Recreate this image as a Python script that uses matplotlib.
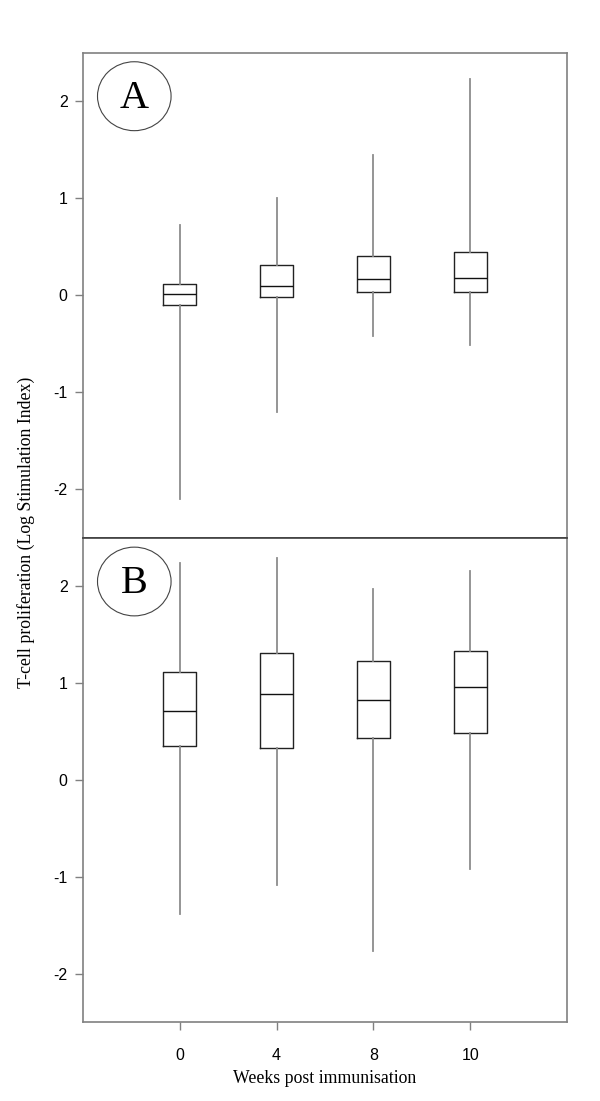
import matplotlib
matplotlib.use("Agg")
import matplotlib.pyplot as plt
from matplotlib.patches import Ellipse

# weeks post immunisation (x categories)
weeks = ["0", "4", "8", "10"]

# panel A box statistics (log stimulation index)
a_whislo = [-2.10, -1.20, -0.42, -0.51]
a_q1 = [-0.10, -0.02, 0.03, 0.03]
a_med = [0.01, 0.10, 0.17, 0.18]
a_q3 = [0.12, 0.31, 0.40, 0.45]
a_whishi = [0.72, 1.00, 1.44, 2.23]

# panel B box statistics
b_whislo = [-1.38, -1.09, -1.77, -0.92]
b_q1 = [0.35, 0.33, 0.43, 0.49]
b_med = [0.71, 0.885, 0.83, 0.96]
b_q3 = [1.12, 1.31, 1.23, 1.33]
b_whishi = [2.24, 2.29, 1.97, 2.16]

panel_labels = ["A", "B"]

SPINE = "#808080"
WHISK = "#8c8c8c"
SERIF = "Liberation Serif"
SANS = "Liberation Sans"


def make_stats(whislo, q1, med, q3, whishi):
    return [
        dict(whislo=lo, q1=a, med=m, q3=b, whishi=hi, fliers=[])
        for lo, a, m, b, hi in zip(whislo, q1, med, q3, whishi)
    ]


fig = plt.figure(figsize=(6.0, 11.01), dpi=100)
axA = fig.add_axes([0.1383, 0.5114, 0.8067, 0.4409])
axB = fig.add_axes([0.1383, 0.0718, 0.8067, 0.4396])

positions = list(range(1, len(weeks) + 1))
panels = [
    (axA, make_stats(a_whislo, a_q1, a_med, a_q3, a_whishi)),
    (axB, make_stats(b_whislo, b_q1, b_med, b_q3, b_whishi)),
]

for (ax, stats), label in zip(panels, panel_labels):
    ax.bxp(
        stats,
        positions=positions,
        widths=0.34,
        showcaps=False,
        showfliers=False,
        boxprops=dict(color="#222222", linewidth=1.0),
        medianprops=dict(color="#111111", linewidth=1.0),
        whiskerprops=dict(color=WHISK, linewidth=1.3),
    )
    ax.set_xlim(0, 5)
    ax.set_ylim(-2.5, 2.5)
    ax.set_yticks([-2, -1, 0, 1, 2])
    ax.set_yticklabels(["-2", "-1", "0", "1", "2"], fontfamily=SANS, fontsize=11.5)
    for s in ax.spines.values():
        s.set_color(SPINE)
        s.set_linewidth(1.2)
    ax.tick_params(axis="y", direction="out", length=6, width=1.0, color=SPINE, pad=5)

    # circled panel letter
    ell = Ellipse((0.53, 2.05), 0.76, 0.71, fill=False, edgecolor="#444444", linewidth=0.8)
    ax.add_patch(ell)
    ax.text(0.53, 2.03, label, fontfamily=SERIF, fontsize=29, ha="center", va="center")

axA.spines["bottom"].set_color("#404040")
axB.spines["top"].set_color("#404040")
axA.set_xticks([])

axB.set_xticks(positions)
axB.set_xticklabels(weeks, fontfamily=SANS, fontsize=11.5)
axB.tick_params(axis="x", direction="out", length=6, width=1.0, color=SPINE, pad=13)
axB.set_xlabel("Weeks post immunisation", fontfamily=SERIF, fontsize=12.8, labelpad=5)

fig.text(0.043, 0.5168, "T-cell proliferation (Log Stimulation Index)",
         rotation=90, fontfamily=SERIF, fontsize=12.8, ha="center", va="center")

fig.savefig("out.png", dpi=100)
